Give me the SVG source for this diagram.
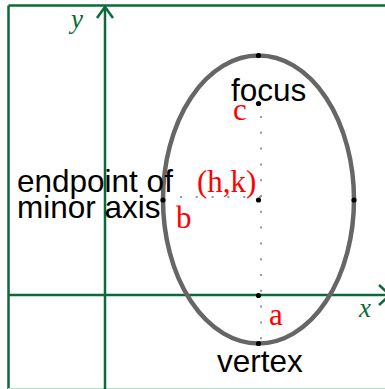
<svg xmlns="http://www.w3.org/2000/svg" width="385" height="389" viewBox="0 0 385 389">
<style>
.ax{stroke:#0b6b38;stroke-width:2.5;fill:none}
.dot{fill:#000}
.dt{stroke:#999;stroke-width:2;stroke-dasharray:2 13.8;fill:none}
.lbl{font-family:"Liberation Sans",Arial,sans-serif;font-size:31.5px;fill:#000}
.red{font-family:"Liberation Serif","Times New Roman",serif;font-size:31px;fill:#f00}
.var{font-family:"Liberation Serif","Times New Roman",serif;font-style:italic;font-size:27px;fill:#0b6b38}
</style>
<rect width="385" height="389" fill="#fff"/>
<g id="axes">
<line class="ax" x1="8.5" y1="5.5" x2="385" y2="5.5"/>
<line class="ax" x1="8.5" y1="5.5" x2="8.5" y2="389"/>
<line x1="8" y1="388.5" x2="385" y2="388.5" stroke="#b5dcc6" stroke-width="1"/>
<line class="ax" x1="105" y1="6" x2="105" y2="389"/>
<polyline class="ax" points="97,18 105,7 113,18"/>
<line class="ax" x1="8.5" y1="295" x2="385" y2="295"/>
<polyline class="ax" points="379,285 390,295 379,305"/>
<text class="var" x="71" y="28">y</text>
<text class="var" x="359" y="317">x</text>
</g>
<g id="ellipse">
<ellipse cx="258.5" cy="199.5" rx="95.5" ry="144" fill="none" stroke="#666" stroke-width="4.5"/>
</g>
<g id="connectors">
<line class="dt" x1="261" y1="116" x2="261" y2="340"/>
<line class="dt" x1="180" y1="197" x2="262" y2="197"/>
</g>
<g id="vertex-top"><circle class="dot" cx="258.5" cy="55.5" r="2.6"/></g>
<g id="focus"><circle class="dot" cx="258.5" cy="103.5" r="2.6"/><text class="lbl" x="231" y="101">focus</text></g>
<g id="center"><circle class="dot" cx="258.5" cy="200" r="2.6"/><text class="red" x="197" y="192">(h,k)</text></g>
<g id="endpoint-left"><circle class="dot" cx="163" cy="200" r="2.6"/><text class="lbl" x="17" y="192">endpoint of</text><text class="lbl" x="17" y="218">minor axis</text></g>
<g id="endpoint-right"><circle class="dot" cx="354" cy="200" r="2.6"/></g>
<g id="axis-point"><circle class="dot" cx="258.5" cy="295.5" r="2.6"/></g>
<g id="vertex"><circle class="dot" cx="258.5" cy="343.5" r="2.6"/><text class="lbl" x="217" y="372">vertex</text></g>
<g id="labels">
<text class="red" x="233" y="120">c</text>
<text class="red" x="176" y="228">b</text>
<text class="red" x="269" y="325">a</text>
</g>
</svg>
